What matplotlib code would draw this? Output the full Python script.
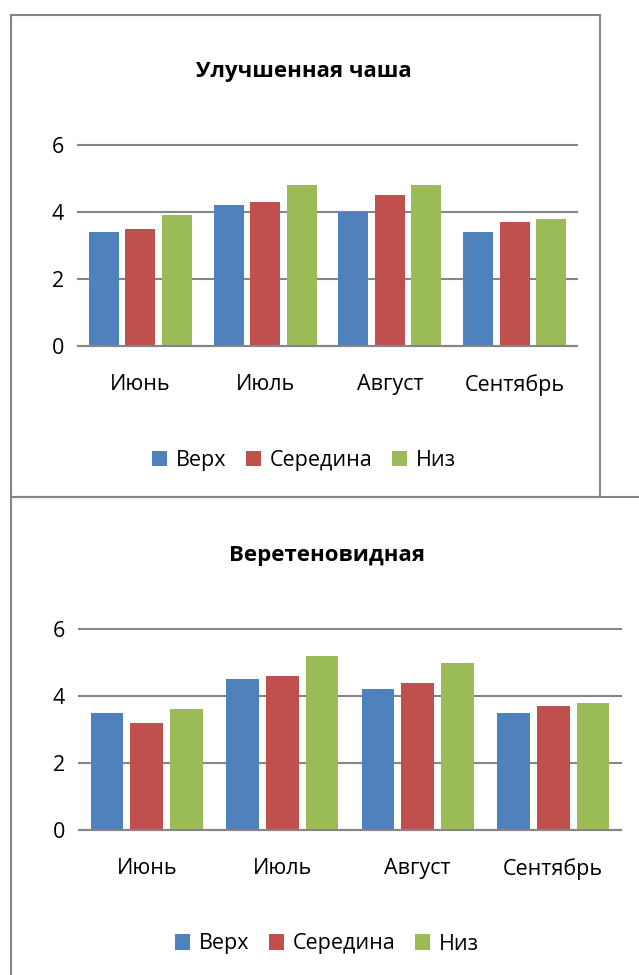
import matplotlib
matplotlib.use("Agg")
import matplotlib.pyplot as plt
from matplotlib.patches import Rectangle, Patch
import numpy as np

plt.rcParams['font.family'] = ['Open Sans', 'DejaVu Sans']

categories = ["Июнь", "Июль", "Август", "Сентябрь"]
series_names = ["Верх", "Середина", "Низ"]
colors = ["#4F81BD", "#C0504D", "#9BBB59"]

title1 = "Улучшенная чаша"
top_verkh = [3.4, 4.2, 4.0, 3.4]
top_seredina = [3.5, 4.3, 4.5, 3.7]
top_niz = [3.9, 4.8, 4.8, 3.8]

title2 = "Веретеновидная"
bot_verkh = [3.5, 4.5, 4.2, 3.5]
bot_seredina = [3.2, 4.6, 4.4, 3.7]
bot_niz = [3.6, 5.2, 5.0, 3.8]

yticks = [0, 2, 4, 6]

W, H = 639, 975
fig = plt.figure(figsize=(W / 100, H / 100), dpi=100)

GRAY = "#868686"

def px_axes(l, t, r, b):
    return fig.add_axes([l / W, 1 - b / H, (r - l) / W, (b - t) / H])

def frame(l, t, r, b):
    fig.patches.append(Rectangle((l / W, 1 - b / H), (r - l) / W, (b - t) / H,
                                 transform=fig.transFigure, fill=False,
                                 edgecolor=GRAY, linewidth=1.5, zorder=0))

def draw_chart(ax, series, title, title_xy, legend_xy):
    x = np.arange(len(categories))
    width = 0.24
    step = 0.293
    for i, (vals, name, c) in enumerate(zip(series, series_names, colors)):
        ax.bar(x + (i - 1) * step, vals, width=width, color=c, label=name, zorder=3)
    ax.set_xlim(-0.5, len(categories) - 0.5)
    ax.set_ylim(0, 6)
    ax.set_yticks(yticks)
    ax.set_yticklabels([str(v) for v in yticks], fontsize=15.5)
    ax.set_xticks(x)
    ax.set_xticklabels(categories, fontsize=15.5)
    ax.tick_params(axis='y', length=0, pad=10)
    ax.tick_params(axis='x', length=0, pad=20)
    for s in ax.spines.values():
        s.set_visible(False)
    ax.yaxis.grid(True, color=GRAY, linewidth=1.5, zorder=1)
    for gl in ax.yaxis.get_gridlines():
        gl.set_clip_on(False)
    ax.set_axisbelow(True)
    ax.axhline(0, color=GRAY, linewidth=1.5, zorder=4, clip_on=False)
    fig.text(title_xy[0] / W, 1 - title_xy[1] / H, title, ha='center', va='center',
             fontsize=16, fontweight='bold')
    handles = [Patch(facecolor=c, edgecolor='none') for c in colors]
    fig.legend(handles, series_names, loc='center',
               bbox_to_anchor=(legend_xy[0] / W, 1 - legend_xy[1] / H),
               ncol=3, frameon=False, fontsize=15.5,
               handlelength=0.7, handleheight=0.7, handletextpad=0.4,
               columnspacing=0.9, borderaxespad=0)

# frames
frame(11, 15, 600, 497)
frame(11, 497, 660, 990)

ax1 = px_axes(78, 145, 577, 346)
draw_chart(ax1, [top_verkh, top_seredina, top_niz], title1, (304, 71), (304, 461))

ax2 = px_axes(79, 629, 621, 830)
draw_chart(ax2, [bot_verkh, bot_seredina, bot_niz], title2, (327, 556), (327, 944))

fig.savefig("out.png", dpi=100, facecolor="white")
